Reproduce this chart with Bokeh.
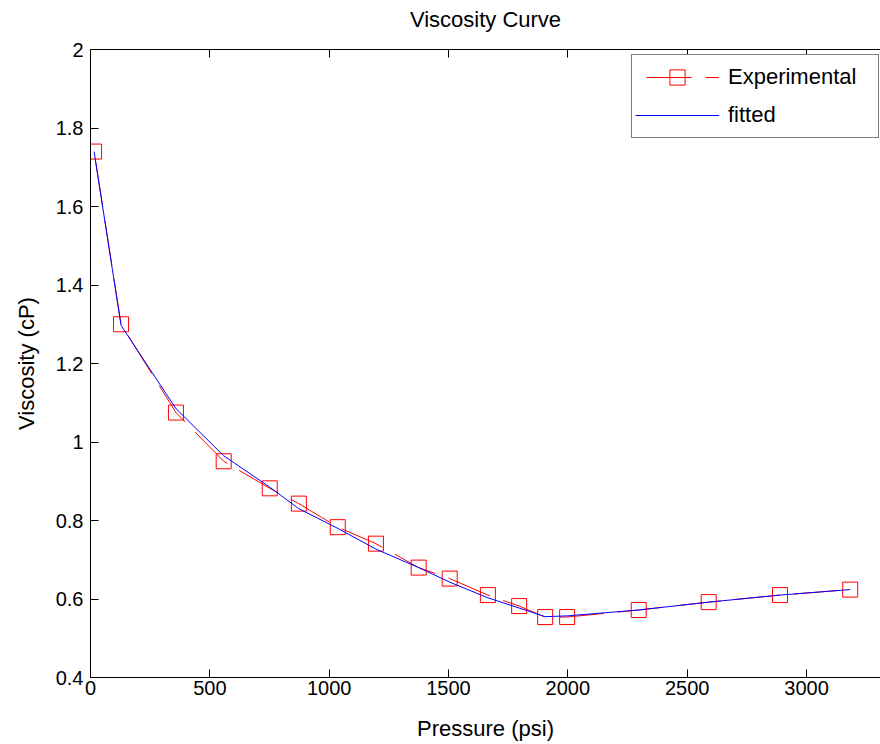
from bokeh.plotting import figure
from bokeh.models import (Range1d, LinearAxis, FixedTicker, CustomJSTickFormatter,
                          Legend, LegendItem)
from bokeh.embed import file_html
from bokeh.resources import INLINE

# ---- data ----
title_text = "Viscosity Curve"
pressure = [15, 128, 358, 558, 751, 873, 1036, 1196, 1375, 1505,
            1665, 1796, 1905, 1997, 2297, 2590, 2889, 3183]
viscosity_exp = [1.740, 1.300, 1.075, 0.951, 0.882, 0.843, 0.783, 0.741, 0.680, 0.652,
                 0.610, 0.582, 0.554, 0.554, 0.572, 0.592, 0.610, 0.624]
viscosity_fit = [1.740, 1.297, 1.085, 0.965, 0.885, 0.830, 0.780, 0.727, 0.680, 0.643,
                 0.603, 0.577, 0.555, 0.557, 0.572, 0.592, 0.610, 0.624]
x_ticks = [0, 500, 1000, 1500, 2000, 2500, 3000]
y_ticks = [0.4, 0.6, 0.8, 1.0, 1.2, 1.4, 1.6, 1.8, 2.0]

FONT = "Liberation Sans"

p = figure(width=880, height=744, output_backend="svg", toolbar_location=None,
           x_range=Range1d(0, 3310), y_range=Range1d(0.4, 2.0),
           min_border_left=90, min_border_right=0, min_border_top=49, min_border_bottom=67,
           background_fill_color="white", border_fill_color="white")
p.title = None
p.outline_line_color = None
p.grid.visible = False

fmt = CustomJSTickFormatter(code="return String(Math.round(tick*10)/10);")

for ax in (p.xaxis[0], p.yaxis[0]):
    ax.major_tick_in = 8
    ax.major_tick_out = 0
    ax.minor_tick_line_color = None
    ax.axis_line_color = "black"
    ax.major_tick_line_color = "black"
    ax.major_label_text_font = FONT
    ax.major_label_text_font_size = "20px"
    ax.major_label_text_color = "black"
    ax.axis_label_text_font = FONT
    ax.axis_label_text_font_size = "22px"
    ax.axis_label_text_font_style = "normal"
    ax.axis_label_text_color = "black"

p.xaxis[0].ticker = FixedTicker(ticks=x_ticks)
p.xaxis[0].axis_label = "Pressure (psi)"
p.xaxis[0].major_label_standoff = 3
p.xaxis[0].axis_label_standoff = 18
p.xaxis[0].axis_label_text_line_height = 1.0

p.yaxis[0].ticker = FixedTicker(ticks=y_ticks)
p.yaxis[0].formatter = fmt
p.yaxis[0].axis_label = "Viscosity (cP)"
p.yaxis[0].major_label_standoff = 7
p.yaxis[0].axis_label_standoff = 14

# top box edge with inward ticks; its axis label serves as the chart title
top = LinearAxis(ticker=FixedTicker(ticks=x_ticks), major_tick_in=8, major_tick_out=0,
                 minor_tick_line_color=None,
                 formatter=CustomJSTickFormatter(code="return '';"),
                 major_label_standoff=0, axis_line_color="black",
                 axis_label=title_text, axis_label_standoff=18,
                 axis_label_text_font=FONT, axis_label_text_font_size="22px",
                 axis_label_text_font_style="normal", axis_label_text_color="black",
                 axis_label_text_line_height=1.0)
p.add_layout(top, "above")

r_line = p.line(pressure, viscosity_exp, line_color="#ff0000", line_width=1,
                line_dash="45 14", line_dash_offset=48)
r_mark = p.scatter(pressure, viscosity_exp, marker="square", size=15,
                   fill_color=None, line_color="#ff0000", line_width=1)
r_fit = p.line(pressure, viscosity_fit, line_color="#0000ff", line_width=1)

legend = Legend(items=[LegendItem(label="Experimental", renderers=[r_line, r_mark]),
                       LegendItem(label="fitted", renderers=[r_fit])],
                location=(541, 539), orientation="vertical",
                padding=3, spacing=-5, margin=0,
                glyph_width=84, glyph_height=38, label_height=22,
                label_standoff=9, label_width=147,
                label_text_font=FONT, label_text_font_size="22px",
                label_text_color="black",
                border_line_color="black", border_line_width=1,
                background_fill_color="white", background_fill_alpha=1.0)
p.add_layout(legend, "center")

open("out.html", "w").write(file_html(p, INLINE))
